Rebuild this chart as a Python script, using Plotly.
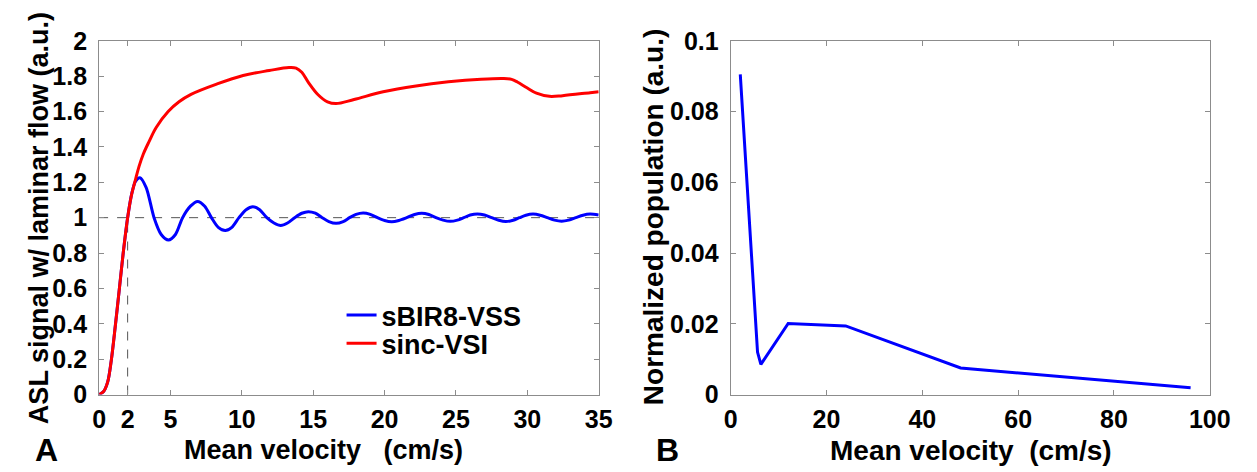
import plotly.graph_objects as go

W, H = 1257, 472

# panel A: ASL signal vs mean velocity
vss_v = [0, 0.3, 0.6, 0.85, 1.14, 1.41, 1.69, 2.0, 2.3, 2.55, 2.86, 3.3, 3.85, 4.35, 4.86,
         5.35, 5.85, 6.4, 6.9, 7.4, 7.87, 8.35, 8.84, 9.3, 9.8, 10.3, 10.77, 11.25, 11.75,
         12.25, 12.72, 13.2, 13.7, 14.2, 14.66, 15.15, 15.63, 16.1, 16.6, 17.1, 17.55,
         18.0, 18.5, 19.0, 19.5, 20.0, 20.5, 21.0, 21.55, 22.1, 22.6, 23.1, 23.6, 24.1,
         24.6, 25.1, 25.55, 26.0, 26.5, 27.0, 27.5, 28.0, 28.5, 29.0, 29.45, 29.9, 30.4,
         30.9, 31.4, 31.9, 32.4, 32.9, 33.4, 33.9, 34.4, 35.0]
vss_s = [0, 0.015, 0.07, 0.19, 0.39, 0.59, 0.80, 1.0, 1.14, 1.205, 1.226, 1.17, 1.0, 0.905, 0.874,
         0.905, 1.0, 1.065, 1.092, 1.065, 1.0, 0.945, 0.927, 0.945, 1.0, 1.045, 1.062, 1.045, 1.0,
         0.97, 0.956, 0.97, 1.0, 1.025, 1.034, 1.025, 1.0, 0.978, 0.968, 0.978, 1.0,
         1.019, 1.027, 1.019, 1.0, 0.984, 0.977, 0.984, 1.0, 1.018, 1.025, 1.018, 1.0, 0.986,
         0.979, 0.986, 1.0, 1.015, 1.021, 1.015, 1.0, 0.985, 0.978, 0.985, 1.0, 1.014, 1.020,
         1.014, 1.0, 0.986, 0.980, 0.986, 1.0, 1.014, 1.020, 1.015]

vsi_v = [0, 0.3, 0.6, 0.85, 1.14, 1.41, 1.69, 2.0, 2.25, 2.55, 2.8, 3.1, 3.5, 4.0, 4.84, 5.6,
         6.44, 8.27, 10.09, 11.92, 13.3, 13.8, 14.2, 14.66, 15.34, 16.0, 16.6, 17.86, 19.9,
         22.2, 24.47, 26.76, 28.36, 28.9, 29.3, 30.0, 30.64, 31.55, 32.47, 34.4, 35.0]
vsi_s = [0, 0.015, 0.07, 0.19, 0.39, 0.59, 0.80, 1.0, 1.12, 1.215, 1.29, 1.36, 1.43, 1.51, 1.6, 1.655,
         1.697, 1.756, 1.804, 1.832, 1.849, 1.846, 1.822, 1.765, 1.695, 1.655, 1.645, 1.668, 1.712,
         1.745, 1.768, 1.783, 1.787, 1.782, 1.767, 1.733, 1.704, 1.686, 1.690, 1.707, 1.712]

# panel B: velocity distribution
pop_v = [2.0, 5.6, 6.3, 12, 24, 48, 96]
pop_n = [0.0905, 0.012, 0.0085, 0.0201, 0.0194, 0.0075, 0.0019]

xticks_a = [0, 2, 5, 10, 15, 20, 25, 30, 35]

FONT = "Liberation Sans"


def px(x):
    return x / W


def py(y):
    return 1 - y / H


fig = go.Figure()

fig.add_trace(go.Scatter(x=vss_v, y=vss_s, mode="lines", name="sBIR8-VSS", legend="legend",
                         line=dict(color="#0000ff", width=3, shape="spline", smoothing=0.8),
                         xaxis="x", yaxis="y"))
fig.add_trace(go.Scatter(x=vsi_v, y=vsi_s, mode="lines", name="sinc-VSI", legend="legend2",
                         line=dict(color="#ff0000", width=3, shape="spline", smoothing=1.0),
                         xaxis="x", yaxis="y"))
fig.add_trace(go.Scatter(x=pop_v, y=pop_n, mode="lines", showlegend=False,
                         line=dict(color="#0000ff", width=3),
                         xaxis="x2", yaxis="y2"))

# dashed guides at signal = 1 and v = 2
fig.add_shape(type="line", xref="x", yref="y", x0=0, x1=35, y0=1, y1=1,
              line=dict(color="#555555", width=1, dash="dash"), layer="below")
fig.add_shape(type="line", xref="x", yref="y", x0=2, x1=2, y0=0, y1=1,
              line=dict(color="#555555", width=1, dash="dash"), layer="below")

axis_style = dict(showline=True, linecolor="#8c8c8c", linewidth=1, mirror="ticks",
                  ticks="inside", ticklen=5, tickcolor="#8c8c8c", showgrid=False,
                  zeroline=False, tickfont=dict(family=FONT, size=25, color="black", weight="bold"))

leg_font = dict(family=FONT, size=27, color="black", weight="bold")

fig.update_layout(
    width=W, height=H,
    margin=dict(l=0, r=0, t=0, b=0),
    plot_bgcolor="white", paper_bgcolor="white",
    xaxis=dict(domain=[px(86), px(597)], range=[0, 35], tickvals=xticks_a,
               anchor="y", ticklabelstandoff=2, **axis_style),
    yaxis=dict(domain=[py(396), py(20)], range=[0, 2], dtick=0.2,
               anchor="x", ticklabelstandoff=6, **axis_style),
    xaxis2=dict(domain=[px(732), px(1222)], range=[0, 100], dtick=20,
                anchor="y2", ticklabelstandoff=2, **axis_style),
    yaxis2=dict(domain=[py(396), py(20)], range=[0, 0.1], dtick=0.02,
                anchor="x2", ticklabelstandoff=6, **axis_style),
    legend=dict(x=px(334), y=py(312), xanchor="left", yanchor="middle",
                bgcolor="rgba(0,0,0,0)", font=leg_font),
    legend2=dict(x=px(334), y=py(342), xanchor="left", yanchor="middle",
                 bgcolor="rgba(0,0,0,0)", font=leg_font),
    showlegend=True,
)

notes = [
    dict(text="Mean velocity   (cm/s)", x=px(316), y=py(455), size=27),
    dict(text="Mean velocity  (cm/s)", x=px(978), y=py(455), size=28),
    dict(text="ASL signal w/ laminar flow (a.u.)", x=px(24), y=py(208), textangle=-90, size=27),
    dict(text="Normalized population (a.u.)", x=px(653), y=py(207), textangle=-90, size=28),
]
for n in notes:
    size = n.pop("size")
    fig.add_annotation(xref="paper", yref="paper", showarrow=False,
                       xanchor="center", yanchor="middle",
                       font=dict(family=FONT, size=size, color="black", weight="bold"), **n)

for letter, xpos in [("A", 32), ("B", 667)]:
    fig.add_annotation(text=letter, xref="paper", yref="paper", x=px(xpos), y=py(455),
                       showarrow=False, xanchor="center", yanchor="middle",
                       font=dict(family=FONT, size=32, color="black", weight="bold"))

fig.write_html("out.html")
